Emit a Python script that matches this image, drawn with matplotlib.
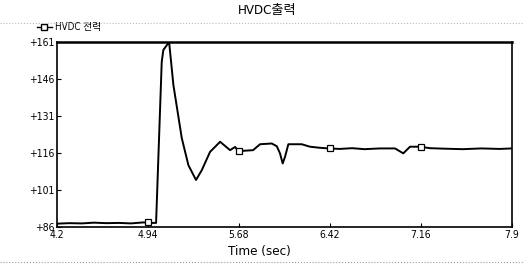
import matplotlib.pyplot as plt
from matplotlib.lines import Line2D

plt.rcParams['font.family'] = ['DejaVu Sans', 'Noto Sans CJK KR']
plt.rcParams['font.stretch'] = 'condensed'

# HVDC power trace
time = [4.20, 4.30, 4.40, 4.50, 4.60, 4.70, 4.80, 4.90, 4.97, 5.005,
        5.051, 5.064, 5.090, 5.111, 5.146, 5.214, 5.268, 5.330, 5.377, 5.444,
        5.526, 5.607, 5.648, 5.674, 5.794, 5.851, 5.946, 5.987, 6.013,
        6.035, 6.054, 6.081, 6.190, 6.257, 6.33, 6.406, 6.50, 6.60, 6.70,
        6.827, 6.949, 7.016, 7.071, 7.152, 7.233, 7.35, 7.50, 7.65, 7.80, 7.90]
power = [87.4, 87.6, 87.5, 87.8, 87.6, 87.7, 87.5, 87.9, 87.7, 87.7,
         153.0, 157.8, 159.6, 161.1, 143.6, 122.1, 111.1, 105.1, 109.1, 116.5,
         120.6, 117.2, 118.5, 116.8, 117.2, 119.6, 119.9, 118.8, 115.9,
         111.8, 114.5, 119.6, 119.6, 118.6, 118.2, 117.9, 117.7, 118.0, 117.6,
         117.9, 117.9, 115.9, 118.6, 118.6, 118.0, 117.8, 117.6, 117.9, 117.7, 117.9]

marker_times = [4.94, 5.68, 6.42, 7.16]
marker_power = [87.9, 116.8, 117.9, 118.6]

x_ticks = [4.2, 4.94, 5.68, 6.42, 7.16, 7.9]
y_ticks = [86, 101, 116, 131, 146, 161]

fig = plt.figure(figsize=(5.24, 2.65), dpi=100)
ax = fig.add_axes([0.109, 0.143, 0.868, 0.698])

ax.plot(time, power, color='black', linewidth=1.4)
ax.plot(marker_times, marker_power, linestyle='none', marker='s', markersize=5,
        markerfacecolor='white', markeredgecolor='black', markeredgewidth=0.9)

ax.set_xlim(4.2, 7.9)
ax.set_ylim(86, 161)
ax.set_xticks(x_ticks)
ax.set_xticklabels([f'{t:g}' for t in x_ticks])
ax.set_yticks(y_ticks)
ax.set_yticklabels([f'+{v}' for v in y_ticks])
ax.tick_params(direction='in', length=3, labelsize=7.5, pad=2)
for s in ax.spines.values():
    s.set_linewidth(1.2)
ax.spines['top'].set_linewidth(1.8)

handle = Line2D([], [], color='black', linewidth=1, marker='s', markersize=5,
                markerfacecolor='white', markeredgecolor='black')
ax.legend([handle], ['HVDC 전력'], loc='center left', bbox_to_anchor=(-0.045, 1.08),
          frameon=False, fontsize=7, handlelength=1.6, handletextpad=0.3,
          borderaxespad=0, borderpad=0.0)

fig.text(0.51, 0.962, 'HVDC출력', ha='center', va='center', fontsize=9.5)
fig.text(0.495, 0.052, 'Time (sec)', ha='center', va='center', fontsize=9.5)

# faint dotted scan lines
fig.add_artist(Line2D([0.0, 1.0], [0.915, 0.915], transform=fig.transFigure,
                      color='#bbbbbb', linestyle=':', linewidth=0.8))
fig.add_artist(Line2D([0.0, 1.0], [0.012, 0.012], transform=fig.transFigure,
                      color='#999999', linestyle=':', linewidth=0.8))

plt.savefig('out.png', dpi=100)
